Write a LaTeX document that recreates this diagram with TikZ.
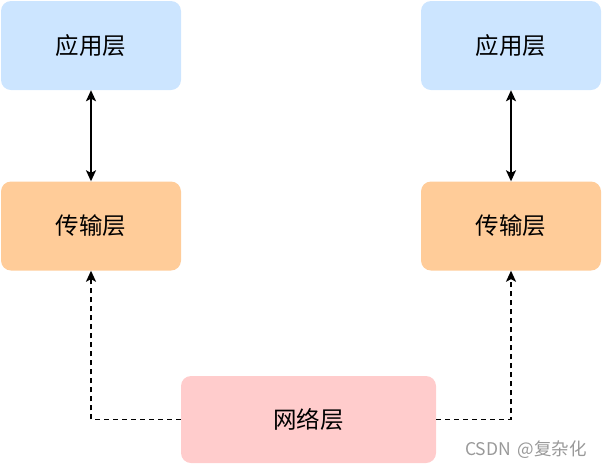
\documentclass[tikz,border=0pt]{standalone}
\usepackage{fontspec}
\newfontfamily\cjk{Noto Sans CJK SC}
\usetikzlibrary{arrows.meta}
\definecolor{appblue}{HTML}{CCE5FF}
\definecolor{transorange}{HTML}{FFCC99}
\definecolor{netpink}{HTML}{FFCCCC}
\definecolor{wmgray}{HTML}{999999}
\begin{document}
\begin{tikzpicture}[x=1pt,y=-1pt,
  layer/.style={rounded corners=10pt, minimum width=180pt, minimum height=89pt, inner sep=0pt, font=\cjk\fontsize{23.5}{28}\selectfont, text=black},
  solidarrow/.style={draw=black, line width=1.5pt, {Stealth[length=11pt,width=10pt,inset=2.5pt]}-{Stealth[length=11pt,width=10pt,inset=2.5pt]}},
  dasharrow/.style={draw=black, line width=1.5pt, dash pattern=on 5pt off 4pt, -{Stealth[length=11pt,width=10pt,inset=2.5pt]}}
]
\useasboundingbox (0,0) rectangle (602,467);
\node[layer, fill=appblue] (appL) at (91,45.5) {应用层};
\node[layer, fill=transorange] (trL) at (91,226) {传输层};
\node[layer, fill=appblue] (appR) at (511,45.5) {应用层};
\node[layer, fill=transorange] (trR) at (511,226) {传输层};
\node[layer, fill=netpink, minimum width=255pt, minimum height=87pt] (net) at (308.5,419.5) {网络层};
\draw[solidarrow] (appL.south) -- (trL.north);
\draw[solidarrow] (appR.south) -- (trR.north);
\draw[dasharrow] (net.west) -| (trL.south);
\draw[dasharrow] (net.east) -| (trR.south);
\node[font=\cjk\fontsize{17.5}{20}\selectfont, text=wmgray, anchor=east, inner sep=0pt] (wm) at (587,450) {CSDN\hspace{3pt} @复杂化};
\end{tikzpicture}
\end{document}
